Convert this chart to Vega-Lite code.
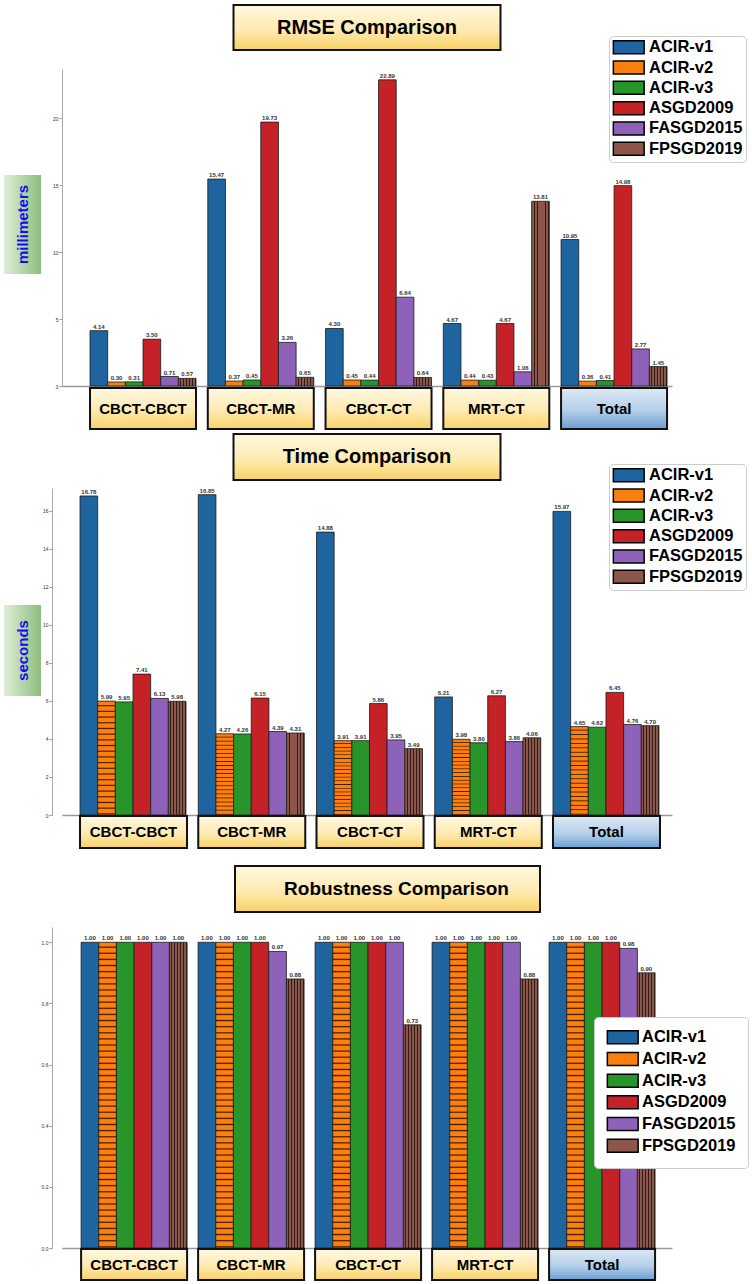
{
  "$schema": "https://vega.github.io/schema/vega-lite/v6.json",
  "background": "white",
  "padding": {"left": 4, "top": 4, "right": 0, "bottom": 0},
  "config": {"view": {"stroke": null}, "font": "Liberation Sans"},
  "datasets": {
    "cats": [{"cat": "CBCT-CBCT"}, {"cat": "CBCT-MR"}, {"cat": "CBCT-CT"}, {"cat": "MRT-CT"}, {"cat": "Total"}],
    "rmse": [
      {"cat": "CBCT-CBCT", "method": "ACIR-v1", "value": 4.14}, {"cat": "CBCT-CBCT", "method": "ACIR-v2", "value": 0.30}, {"cat": "CBCT-CBCT", "method": "ACIR-v3", "value": 0.31}, {"cat": "CBCT-CBCT", "method": "ASGD2009", "value": 3.50}, {"cat": "CBCT-CBCT", "method": "FASGD2015", "value": 0.71}, {"cat": "CBCT-CBCT", "method": "FPSGD2019", "value": 0.57},
      {"cat": "CBCT-MR", "method": "ACIR-v1", "value": 15.47}, {"cat": "CBCT-MR", "method": "ACIR-v2", "value": 0.37}, {"cat": "CBCT-MR", "method": "ACIR-v3", "value": 0.45}, {"cat": "CBCT-MR", "method": "ASGD2009", "value": 19.73}, {"cat": "CBCT-MR", "method": "FASGD2015", "value": 3.26}, {"cat": "CBCT-MR", "method": "FPSGD2019", "value": 0.65},
      {"cat": "CBCT-CT", "method": "ACIR-v1", "value": 4.30}, {"cat": "CBCT-CT", "method": "ACIR-v2", "value": 0.45}, {"cat": "CBCT-CT", "method": "ACIR-v3", "value": 0.44}, {"cat": "CBCT-CT", "method": "ASGD2009", "value": 22.89}, {"cat": "CBCT-CT", "method": "FASGD2015", "value": 6.64}, {"cat": "CBCT-CT", "method": "FPSGD2019", "value": 0.64},
      {"cat": "MRT-CT", "method": "ACIR-v1", "value": 4.67}, {"cat": "MRT-CT", "method": "ACIR-v2", "value": 0.44}, {"cat": "MRT-CT", "method": "ACIR-v3", "value": 0.43}, {"cat": "MRT-CT", "method": "ASGD2009", "value": 4.67}, {"cat": "MRT-CT", "method": "FASGD2015", "value": 1.06}, {"cat": "MRT-CT", "method": "FPSGD2019", "value": 13.81},
      {"cat": "Total", "method": "ACIR-v1", "value": 10.95}, {"cat": "Total", "method": "ACIR-v2", "value": 0.36}, {"cat": "Total", "method": "ACIR-v3", "value": 0.41}, {"cat": "Total", "method": "ASGD2009", "value": 14.98}, {"cat": "Total", "method": "FASGD2015", "value": 2.77}, {"cat": "Total", "method": "FPSGD2019", "value": 1.45}
    ],
    "time": [
      {"cat": "CBCT-CBCT", "method": "ACIR-v1", "value": 16.78}, {"cat": "CBCT-CBCT", "method": "ACIR-v2", "value": 5.99}, {"cat": "CBCT-CBCT", "method": "ACIR-v3", "value": 5.95}, {"cat": "CBCT-CBCT", "method": "ASGD2009", "value": 7.41}, {"cat": "CBCT-CBCT", "method": "FASGD2015", "value": 6.13}, {"cat": "CBCT-CBCT", "method": "FPSGD2019", "value": 5.98},
      {"cat": "CBCT-MR", "method": "ACIR-v1", "value": 16.85}, {"cat": "CBCT-MR", "method": "ACIR-v2", "value": 4.27}, {"cat": "CBCT-MR", "method": "ACIR-v3", "value": 4.26}, {"cat": "CBCT-MR", "method": "ASGD2009", "value": 6.15}, {"cat": "CBCT-MR", "method": "FASGD2015", "value": 4.39}, {"cat": "CBCT-MR", "method": "FPSGD2019", "value": 4.31},
      {"cat": "CBCT-CT", "method": "ACIR-v1", "value": 14.88}, {"cat": "CBCT-CT", "method": "ACIR-v2", "value": 3.91}, {"cat": "CBCT-CT", "method": "ACIR-v3", "value": 3.91}, {"cat": "CBCT-CT", "method": "ASGD2009", "value": 5.86}, {"cat": "CBCT-CT", "method": "FASGD2015", "value": 3.95}, {"cat": "CBCT-CT", "method": "FPSGD2019", "value": 3.49},
      {"cat": "MRT-CT", "method": "ACIR-v1", "value": 6.21}, {"cat": "MRT-CT", "method": "ACIR-v2", "value": 3.98}, {"cat": "MRT-CT", "method": "ACIR-v3", "value": 3.80}, {"cat": "MRT-CT", "method": "ASGD2009", "value": 6.27}, {"cat": "MRT-CT", "method": "FASGD2015", "value": 3.86}, {"cat": "MRT-CT", "method": "FPSGD2019", "value": 4.06},
      {"cat": "Total", "method": "ACIR-v1", "value": 15.97}, {"cat": "Total", "method": "ACIR-v2", "value": 4.65}, {"cat": "Total", "method": "ACIR-v3", "value": 4.62}, {"cat": "Total", "method": "ASGD2009", "value": 6.45}, {"cat": "Total", "method": "FASGD2015", "value": 4.76}, {"cat": "Total", "method": "FPSGD2019", "value": 4.70}
    ],
    "robust": [
      {"cat": "CBCT-CBCT", "method": "ACIR-v1", "value": 1.00}, {"cat": "CBCT-CBCT", "method": "ACIR-v2", "value": 1.00}, {"cat": "CBCT-CBCT", "method": "ACIR-v3", "value": 1.00}, {"cat": "CBCT-CBCT", "method": "ASGD2009", "value": 1.00}, {"cat": "CBCT-CBCT", "method": "FASGD2015", "value": 1.00}, {"cat": "CBCT-CBCT", "method": "FPSGD2019", "value": 1.00},
      {"cat": "CBCT-MR", "method": "ACIR-v1", "value": 1.00}, {"cat": "CBCT-MR", "method": "ACIR-v2", "value": 1.00}, {"cat": "CBCT-MR", "method": "ACIR-v3", "value": 1.00}, {"cat": "CBCT-MR", "method": "ASGD2009", "value": 1.00}, {"cat": "CBCT-MR", "method": "FASGD2015", "value": 0.97}, {"cat": "CBCT-MR", "method": "FPSGD2019", "value": 0.88},
      {"cat": "CBCT-CT", "method": "ACIR-v1", "value": 1.00}, {"cat": "CBCT-CT", "method": "ACIR-v2", "value": 1.00}, {"cat": "CBCT-CT", "method": "ACIR-v3", "value": 1.00}, {"cat": "CBCT-CT", "method": "ASGD2009", "value": 1.00}, {"cat": "CBCT-CT", "method": "FASGD2015", "value": 1.00}, {"cat": "CBCT-CT", "method": "FPSGD2019", "value": 0.73},
      {"cat": "MRT-CT", "method": "ACIR-v1", "value": 1.00}, {"cat": "MRT-CT", "method": "ACIR-v2", "value": 1.00}, {"cat": "MRT-CT", "method": "ACIR-v3", "value": 1.00}, {"cat": "MRT-CT", "method": "ASGD2009", "value": 1.00}, {"cat": "MRT-CT", "method": "FASGD2015", "value": 1.00}, {"cat": "MRT-CT", "method": "FPSGD2019", "value": 0.88},
      {"cat": "Total", "method": "ACIR-v1", "value": 1.00}, {"cat": "Total", "method": "ACIR-v2", "value": 1.00}, {"cat": "Total", "method": "ACIR-v3", "value": 1.00}, {"cat": "Total", "method": "ASGD2009", "value": 1.00}, {"cat": "Total", "method": "FASGD2015", "value": 0.98}, {"cat": "Total", "method": "FPSGD2019", "value": 0.90}
    ]
  },
  "spacing": 0,
  "resolve": {"scale": {"color": "independent"}, "legend": {"color": "independent"}},
  "hconcat": [
    {
      "vconcat": [
        {"width": 37, "height": 170, "data": {"values": [{}]}, "mark": {"type": "rect", "opacity": 0}, "encoding": {}},
        {"width": 37, "height": 99, "data": {"values": [{"t": "millimeters"}]},
          "layer": [
            {"mark": {"type": "rect", "fill": {"gradient": "linear", "x1": 0, "y1": 0, "x2": 1, "y2": 0, "stops": [{"offset": 0, "color": "#dfeed9"}, {"offset": 1, "color": "#8dbd7b"}]}}, "encoding": {}},
            {"mark": {"type": "text", "angle": 270, "fontSize": 15, "fontWeight": "bold", "color": "#1010f0"}, "encoding": {"text": {"field": "t"}}}
          ]},
        {"width": 37, "height": 331, "data": {"values": [{}]}, "mark": {"type": "rect", "opacity": 0}, "encoding": {}},
        {"width": 37, "height": 91, "data": {"values": [{"t": "seconds"}]},
          "layer": [
            {"mark": {"type": "rect", "fill": {"gradient": "linear", "x1": 0, "y1": 0, "x2": 1, "y2": 0, "stops": [{"offset": 0, "color": "#dfeed9"}, {"offset": 1, "color": "#8dbd7b"}]}}, "encoding": {}},
            {"mark": {"type": "text", "angle": 270, "fontSize": 15, "fontWeight": "bold", "color": "#1010f0"}, "encoding": {"text": {"field": "t"}}}
          ]}
      ],
      "spacing": 0,
      "bounds": "flush"
    },
    {
      "spacing": 0,
      "bounds": "flush",
      "center": true,
      "resolve": {"scale": {"color": "independent"}, "legend": {"color": "independent"}},
      "vconcat": [
        {"width": 267, "height": 45, "data": {"values": [{"t": "RMSE Comparison"}]},
          "layer": [
            {"mark": {"type": "rect", "stroke": "#111", "strokeWidth": 2, "fill": {"gradient": "linear", "x1": 0, "y1": 0, "x2": 0, "y2": 1, "stops": [{"offset": 0, "color": "#fff8e0"}, {"offset": 0.55, "color": "#feeab2"}, {"offset": 1, "color": "#f9d266"}]}}, "encoding": {}},
            {"mark": {"type": "text", "fontSize": 20, "fontWeight": "bold", "color": "#000"}, "encoding": {"text": {"field": "t"}}}
          ]},
        {"width": 10, "height": 19, "data": {"values": [{}]}, "mark": {"type": "rect", "opacity": 0}, "encoding": {}},
        {"width": 610, "height": 317, "data": {"name": "rmse"},
          "encoding": {
            "x": {"field": "cat", "type": "nominal", "sort": null, "scale": {"domain": ["CBCT-CBCT", "CBCT-MR", "CBCT-CT", "MRT-CT", "Total"], "paddingInner": 0.1, "paddingOuter": 0.14, "align": 0.85}, "axis": {"title": null, "labels": false, "ticks": false, "grid": false, "domainColor": "#999", "domainWidth": 1.5}},
            "xOffset": {"field": "method", "type": "nominal", "sort": null, "scale": {"domain": ["ACIR-v1", "ACIR-v2", "ACIR-v3", "ASGD2009", "FASGD2015", "FPSGD2019"], "paddingInner": 0, "paddingOuter": 0}},
            "y": {"field": "value", "type": "quantitative", "scale": {"domain": [0, 23.7], "nice": false}, "axis": {"title": null, "values": [0, 5, 10, 15, 20], "format": "d", "grid": false, "labelFontSize": 5, "labelColor": "#333", "tickSize": 3, "tickColor": "#999", "labelPadding": 1, "domainColor": "#aaa"}}
          },
          "layer": [
            {"mark": {"type": "bar", "stroke": "#1a1a1a", "strokeWidth": 0.8},
              "encoding": {"color": {
                "condition": [
                  {"test": "datum.method === 'FPSGD2019'", "value": {"gradient": "linear", "x1": 0, "y1": 0, "x2": 1, "y2": 0, "stops": [{"offset": 0, "color": "#8c564b"}, {"offset": 0.117, "color": "#8c564b"}, {"offset": 0.117, "color": "#2e1c18"}, {"offset": 0.167, "color": "#2e1c18"}, {"offset": 0.167, "color": "#8c564b"}, {"offset": 0.283, "color": "#8c564b"}, {"offset": 0.283, "color": "#2e1c18"}, {"offset": 0.333, "color": "#2e1c18"}, {"offset": 0.333, "color": "#8c564b"}, {"offset": 0.45, "color": "#8c564b"}, {"offset": 0.45, "color": "#2e1c18"}, {"offset": 0.5, "color": "#2e1c18"}, {"offset": 0.5, "color": "#8c564b"}, {"offset": 0.617, "color": "#8c564b"}, {"offset": 0.617, "color": "#2e1c18"}, {"offset": 0.667, "color": "#2e1c18"}, {"offset": 0.667, "color": "#8c564b"}, {"offset": 0.783, "color": "#8c564b"}, {"offset": 0.783, "color": "#2e1c18"}, {"offset": 0.833, "color": "#2e1c18"}, {"offset": 0.833, "color": "#8c564b"}, {"offset": 0.95, "color": "#8c564b"}, {"offset": 0.95, "color": "#2e1c18"}, {"offset": 1, "color": "#2e1c18"}]}}
                ],
                "field": "method", "type": "nominal", "sort": null,
                "scale": {"domain": ["ACIR-v1", "ACIR-v2", "ACIR-v3", "ASGD2009", "FASGD2015", "FPSGD2019"], "range": ["#1e65a0", "#f7800f", "#27952a", "#c42226", "#8d62b8", "#8c564b"]},
                "legend": {"title": null, "orient": "none", "legendX": 547, "legendY": -33, "direction": "vertical", "symbolType": "M-2.2,-0.93H2.2V0.93H-2.2Z", "symbolSize": 196, "symbolStrokeColor": "#000", "symbolStrokeWidth": 1.5, "symbolOffset": 8.5, "labelOffset": 12, "labelFontSize": 16.5, "labelFontWeight": "bold", "labelColor": "#000", "labelLimit": 200, "rowPadding": 0.3, "padding": 3, "fillColor": "#fff", "strokeColor": "#ccc", "cornerRadius": 4}}}},
            {"mark": {"type": "text", "baseline": "bottom", "dy": -1, "fontSize": 6, "fontWeight": "bold", "color": "#333"}, "encoding": {"text": {"field": "value", "type": "quantitative", "format": ".2f"}}}
          ]},
        {"width": 10, "height": 2, "data": {"values": [{}]}, "mark": {"type": "rect", "opacity": 0}, "encoding": {}},
        {"width": 610, "height": 41, "data": {"name": "cats"},
          "encoding": {"x": {"field": "cat", "type": "nominal", "sort": null, "scale": {"domain": ["CBCT-CBCT", "CBCT-MR", "CBCT-CT", "MRT-CT", "Total"], "paddingInner": 0.1, "paddingOuter": 0.14, "align": 0.85}, "axis": null}},
          "layer": [
            {"mark": {"type": "rect", "stroke": "#111", "strokeWidth": 2}, "encoding": {"fill": {"condition": {"test": "datum.cat === 'Total'", "value": {"gradient": "linear", "x1": 0, "y1": 0, "x2": 0, "y2": 1, "stops": [{"offset": 0, "color": "#dde9f6"}, {"offset": 0.55, "color": "#b5cfe9"}, {"offset": 1, "color": "#6a9fd3"}]}}, "value": {"gradient": "linear", "x1": 0, "y1": 0, "x2": 0, "y2": 1, "stops": [{"offset": 0, "color": "#fff8e0"}, {"offset": 0.55, "color": "#feeab2"}, {"offset": 1, "color": "#f9d266"}]}}}},
            {"mark": {"type": "text", "fontSize": 15, "fontWeight": "bold", "color": "#000"}, "encoding": {"text": {"field": "cat"}}}
          ]},
        {"width": 10, "height": 5, "data": {"values": [{}]}, "mark": {"type": "rect", "opacity": 0}, "encoding": {}},
        {"width": 267, "height": 46, "data": {"values": [{"t": "Time Comparison"}]},
          "layer": [
            {"mark": {"type": "rect", "stroke": "#111", "strokeWidth": 2, "fill": {"gradient": "linear", "x1": 0, "y1": 0, "x2": 0, "y2": 1, "stops": [{"offset": 0, "color": "#fff8e0"}, {"offset": 0.55, "color": "#feeab2"}, {"offset": 1, "color": "#f9d266"}]}}, "encoding": {}},
            {"mark": {"type": "text", "fontSize": 20, "fontWeight": "bold", "color": "#000"}, "encoding": {"text": {"field": "t"}}}
          ]},
        {"width": 10, "height": 8, "data": {"values": [{}]}, "mark": {"type": "rect", "opacity": 0}, "encoding": {}},
        {"width": 610, "height": 327, "data": {"name": "time"},
          "encoding": {
            "x": {"field": "cat", "type": "nominal", "sort": null, "scale": {"domain": ["CBCT-CBCT", "CBCT-MR", "CBCT-CT", "MRT-CT", "Total"], "paddingInner": 0.095, "paddingOuter": 0.127, "align": 0.6}, "axis": {"title": null, "labels": false, "ticks": false, "grid": false, "domainColor": "#999", "domainWidth": 1.5}},
            "xOffset": {"field": "method", "type": "nominal", "sort": null, "scale": {"domain": ["ACIR-v1", "ACIR-v2", "ACIR-v3", "ASGD2009", "FASGD2015", "FPSGD2019"], "paddingInner": 0, "paddingOuter": 0}},
            "y": {"field": "value", "type": "quantitative", "scale": {"domain": [0, 17.2], "nice": false}, "axis": {"title": null, "values": [0, 2, 4, 6, 8, 10, 12, 14, 16], "format": "d", "grid": false, "labelFontSize": 5, "labelColor": "#333", "tickSize": 3, "tickColor": "#999", "labelPadding": 1, "domainColor": "#aaa", "offset": 10}}
          },
          "layer": [
            {"mark": {"type": "bar", "stroke": "#1a1a1a", "strokeWidth": 0.8},
              "encoding": {"color": {
                "condition": [
                  {"test": "datum.method === 'FPSGD2019'", "value": {"gradient": "linear", "x1": 0, "y1": 0, "x2": 1, "y2": 0, "stops": [{"offset": 0, "color": "#8c564b"}, {"offset": 0.117, "color": "#8c564b"}, {"offset": 0.117, "color": "#2e1c18"}, {"offset": 0.167, "color": "#2e1c18"}, {"offset": 0.167, "color": "#8c564b"}, {"offset": 0.283, "color": "#8c564b"}, {"offset": 0.283, "color": "#2e1c18"}, {"offset": 0.333, "color": "#2e1c18"}, {"offset": 0.333, "color": "#8c564b"}, {"offset": 0.45, "color": "#8c564b"}, {"offset": 0.45, "color": "#2e1c18"}, {"offset": 0.5, "color": "#2e1c18"}, {"offset": 0.5, "color": "#8c564b"}, {"offset": 0.617, "color": "#8c564b"}, {"offset": 0.617, "color": "#2e1c18"}, {"offset": 0.667, "color": "#2e1c18"}, {"offset": 0.667, "color": "#8c564b"}, {"offset": 0.783, "color": "#8c564b"}, {"offset": 0.783, "color": "#2e1c18"}, {"offset": 0.833, "color": "#2e1c18"}, {"offset": 0.833, "color": "#8c564b"}, {"offset": 0.95, "color": "#8c564b"}, {"offset": 0.95, "color": "#2e1c18"}, {"offset": 1, "color": "#2e1c18"}]}},
                  {"test": "datum.method === 'ACIR-v2'", "value": {"gradient": "linear", "x1": 0, "y1": 0, "x2": 0, "y2": 1, "stops": [
                    {"offset": 0, "color": "#ff7f0e"}, {"offset": 0.03, "color": "#ff7f0e"}, {"offset": 0.04, "color": "#3b1d00"},
                    {"offset": 0.05, "color": "#ff7f0e"}, {"offset": 0.08, "color": "#ff7f0e"}, {"offset": 0.09, "color": "#3b1d00"},
                    {"offset": 0.10, "color": "#ff7f0e"}, {"offset": 0.13, "color": "#ff7f0e"}, {"offset": 0.14, "color": "#3b1d00"},
                    {"offset": 0.15, "color": "#ff7f0e"}, {"offset": 0.18, "color": "#ff7f0e"}, {"offset": 0.19, "color": "#3b1d00"},
                    {"offset": 0.20, "color": "#ff7f0e"}, {"offset": 0.23, "color": "#ff7f0e"}, {"offset": 0.24, "color": "#3b1d00"},
                    {"offset": 0.25, "color": "#ff7f0e"}, {"offset": 0.28, "color": "#ff7f0e"}, {"offset": 0.29, "color": "#3b1d00"},
                    {"offset": 0.30, "color": "#ff7f0e"}, {"offset": 0.33, "color": "#ff7f0e"}, {"offset": 0.34, "color": "#3b1d00"},
                    {"offset": 0.35, "color": "#ff7f0e"}, {"offset": 0.38, "color": "#ff7f0e"}, {"offset": 0.39, "color": "#3b1d00"},
                    {"offset": 0.40, "color": "#ff7f0e"}, {"offset": 0.43, "color": "#ff7f0e"}, {"offset": 0.44, "color": "#3b1d00"},
                    {"offset": 0.45, "color": "#ff7f0e"}, {"offset": 0.48, "color": "#ff7f0e"}, {"offset": 0.49, "color": "#3b1d00"},
                    {"offset": 0.50, "color": "#ff7f0e"}, {"offset": 0.53, "color": "#ff7f0e"}, {"offset": 0.54, "color": "#3b1d00"},
                    {"offset": 0.55, "color": "#ff7f0e"}, {"offset": 0.58, "color": "#ff7f0e"}, {"offset": 0.59, "color": "#3b1d00"},
                    {"offset": 0.60, "color": "#ff7f0e"}, {"offset": 0.63, "color": "#ff7f0e"}, {"offset": 0.64, "color": "#3b1d00"},
                    {"offset": 0.65, "color": "#ff7f0e"}, {"offset": 0.68, "color": "#ff7f0e"}, {"offset": 0.69, "color": "#3b1d00"},
                    {"offset": 0.70, "color": "#ff7f0e"}, {"offset": 0.73, "color": "#ff7f0e"}, {"offset": 0.74, "color": "#3b1d00"},
                    {"offset": 0.75, "color": "#ff7f0e"}, {"offset": 0.78, "color": "#ff7f0e"}, {"offset": 0.79, "color": "#3b1d00"},
                    {"offset": 0.80, "color": "#ff7f0e"}, {"offset": 0.83, "color": "#ff7f0e"}, {"offset": 0.84, "color": "#3b1d00"},
                    {"offset": 0.85, "color": "#ff7f0e"}, {"offset": 0.88, "color": "#ff7f0e"}, {"offset": 0.89, "color": "#3b1d00"},
                    {"offset": 0.90, "color": "#ff7f0e"}, {"offset": 0.93, "color": "#ff7f0e"}, {"offset": 0.94, "color": "#3b1d00"},
                    {"offset": 0.95, "color": "#ff7f0e"}, {"offset": 0.98, "color": "#ff7f0e"}, {"offset": 0.99, "color": "#3b1d00"},
                    {"offset": 1, "color": "#ff7f0e"}]}}
                ],
                "field": "method", "type": "nominal", "sort": null,
                "scale": {"domain": ["ACIR-v1", "ACIR-v2", "ACIR-v3", "ASGD2009", "FASGD2015", "FPSGD2019"], "range": ["#1e65a0", "#f7800f", "#27952a", "#c42226", "#8d62b8", "#8c564b"]},
                "legend": {"title": null, "orient": "none", "legendX": 547, "legendY": -24, "direction": "vertical", "symbolType": "M-2.2,-0.93H2.2V0.93H-2.2Z", "symbolSize": 196, "symbolStrokeColor": "#000", "symbolStrokeWidth": 1.5, "symbolOffset": 8.5, "labelOffset": 12, "labelFontSize": 16.5, "labelFontWeight": "bold", "labelColor": "#000", "labelLimit": 200, "rowPadding": 0.3, "padding": 3, "fillColor": "#fff", "strokeColor": "#ccc", "cornerRadius": 4}}}},
            {"mark": {"type": "text", "baseline": "bottom", "dy": -1, "fontSize": 6, "fontWeight": "bold", "color": "#333"}, "encoding": {"text": {"field": "value", "type": "quantitative", "format": ".2f"}}}
          ]},
        {"width": 10, "height": 1, "data": {"values": [{}]}, "mark": {"type": "rect", "opacity": 0}, "encoding": {}},
        {"width": 610, "height": 32, "data": {"name": "cats"},
          "encoding": {"x": {"field": "cat", "type": "nominal", "sort": null, "scale": {"domain": ["CBCT-CBCT", "CBCT-MR", "CBCT-CT", "MRT-CT", "Total"], "paddingInner": 0.095, "paddingOuter": 0.127, "align": 0.6}, "axis": null}},
          "layer": [
            {"mark": {"type": "rect", "stroke": "#111", "strokeWidth": 2}, "encoding": {"fill": {"condition": {"test": "datum.cat === 'Total'", "value": {"gradient": "linear", "x1": 0, "y1": 0, "x2": 0, "y2": 1, "stops": [{"offset": 0, "color": "#dde9f6"}, {"offset": 0.55, "color": "#b5cfe9"}, {"offset": 1, "color": "#6a9fd3"}]}}, "value": {"gradient": "linear", "x1": 0, "y1": 0, "x2": 0, "y2": 1, "stops": [{"offset": 0, "color": "#fff8e0"}, {"offset": 0.55, "color": "#feeab2"}, {"offset": 1, "color": "#f9d266"}]}}}},
            {"mark": {"type": "text", "fontSize": 15, "fontWeight": "bold", "color": "#000"}, "encoding": {"text": {"field": "cat"}}}
          ]},
        {"width": 10, "height": 18, "data": {"values": [{}]}, "mark": {"type": "rect", "opacity": 0}, "encoding": {}},
        {"width": 346, "height": 46, "data": {"values": [{"t": "Robustness Comparison"}]},
          "encoding": {"x": {"field": "t", "type": "nominal", "scale": {"paddingInner": 0, "paddingOuter": 0.0672, "align": 1}, "axis": null}},
          "layer": [
            {"mark": {"type": "rect", "stroke": "#111", "strokeWidth": 2, "fill": {"gradient": "linear", "x1": 0, "y1": 0, "x2": 0, "y2": 1, "stops": [{"offset": 0, "color": "#fff8e0"}, {"offset": 0.55, "color": "#feeab2"}, {"offset": 1, "color": "#f9d266"}]}}},
            {"mark": {"type": "text", "fontSize": 19, "fontWeight": "bold", "color": "#000", "dx": 9}, "encoding": {"text": {"field": "t"}}}
          ]},
        {"width": 10, "height": 15, "data": {"values": [{}]}, "mark": {"type": "rect", "opacity": 0}, "encoding": {}},
        {"width": 610, "height": 321, "data": {"name": "robust"},
          "encoding": {
            "x": {"field": "cat", "type": "nominal", "sort": null, "scale": {"domain": ["CBCT-CBCT", "CBCT-MR", "CBCT-CT", "MRT-CT", "Total"], "paddingInner": 0.094, "paddingOuter": 0.154, "align": 0.53}, "axis": {"title": null, "labels": false, "ticks": false, "grid": false, "domainColor": "#999", "domainWidth": 1.5}},
            "xOffset": {"field": "method", "type": "nominal", "sort": null, "scale": {"domain": ["ACIR-v1", "ACIR-v2", "ACIR-v3", "ASGD2009", "FASGD2015", "FPSGD2019"], "paddingInner": 0, "paddingOuter": 0}},
            "y": {"field": "value", "type": "quantitative", "scale": {"domain": [0, 1.05], "nice": false}, "axis": {"title": null, "values": [0, 0.2, 0.4, 0.6, 0.8, 1.0], "format": ".1f", "grid": false, "labelFontSize": 5, "labelColor": "#333", "tickSize": 3, "tickColor": "#999", "labelPadding": 1, "domainColor": "#aaa", "offset": 10}}
          },
          "layer": [
            {"mark": {"type": "bar", "stroke": "#1a1a1a", "strokeWidth": 0.8},
              "encoding": {"color": {
                "condition": [
                  {"test": "datum.method === 'FPSGD2019'", "value": {"gradient": "linear", "x1": 0, "y1": 0, "x2": 1, "y2": 0, "stops": [{"offset": 0, "color": "#8c564b"}, {"offset": 0.117, "color": "#8c564b"}, {"offset": 0.117, "color": "#2e1c18"}, {"offset": 0.167, "color": "#2e1c18"}, {"offset": 0.167, "color": "#8c564b"}, {"offset": 0.283, "color": "#8c564b"}, {"offset": 0.283, "color": "#2e1c18"}, {"offset": 0.333, "color": "#2e1c18"}, {"offset": 0.333, "color": "#8c564b"}, {"offset": 0.45, "color": "#8c564b"}, {"offset": 0.45, "color": "#2e1c18"}, {"offset": 0.5, "color": "#2e1c18"}, {"offset": 0.5, "color": "#8c564b"}, {"offset": 0.617, "color": "#8c564b"}, {"offset": 0.617, "color": "#2e1c18"}, {"offset": 0.667, "color": "#2e1c18"}, {"offset": 0.667, "color": "#8c564b"}, {"offset": 0.783, "color": "#8c564b"}, {"offset": 0.783, "color": "#2e1c18"}, {"offset": 0.833, "color": "#2e1c18"}, {"offset": 0.833, "color": "#8c564b"}, {"offset": 0.95, "color": "#8c564b"}, {"offset": 0.95, "color": "#2e1c18"}, {"offset": 1, "color": "#2e1c18"}]}},
                  {"test": "datum.method === 'ACIR-v2'", "value": {"gradient": "linear", "x1": 0, "y1": 0, "x2": 0, "y2": 1, "stops": [
                    {"offset": 0, "color": "#ff7f0e"}, {"offset": 0.012, "color": "#ff7f0e"}, {"offset": 0.016, "color": "#3b1d00"},
                    {"offset": 0.02, "color": "#ff7f0e"}, {"offset": 0.032, "color": "#ff7f0e"}, {"offset": 0.036, "color": "#3b1d00"},
                    {"offset": 0.04, "color": "#ff7f0e"}, {"offset": 0.052, "color": "#ff7f0e"}, {"offset": 0.056, "color": "#3b1d00"},
                    {"offset": 0.06, "color": "#ff7f0e"}, {"offset": 0.072, "color": "#ff7f0e"}, {"offset": 0.076, "color": "#3b1d00"},
                    {"offset": 0.08, "color": "#ff7f0e"}, {"offset": 0.092, "color": "#ff7f0e"}, {"offset": 0.096, "color": "#3b1d00"},
                    {"offset": 0.10, "color": "#ff7f0e"}, {"offset": 0.112, "color": "#ff7f0e"}, {"offset": 0.116, "color": "#3b1d00"},
                    {"offset": 0.12, "color": "#ff7f0e"}, {"offset": 0.132, "color": "#ff7f0e"}, {"offset": 0.136, "color": "#3b1d00"},
                    {"offset": 0.14, "color": "#ff7f0e"}, {"offset": 0.152, "color": "#ff7f0e"}, {"offset": 0.156, "color": "#3b1d00"},
                    {"offset": 0.16, "color": "#ff7f0e"}, {"offset": 0.172, "color": "#ff7f0e"}, {"offset": 0.176, "color": "#3b1d00"},
                    {"offset": 0.18, "color": "#ff7f0e"}, {"offset": 0.192, "color": "#ff7f0e"}, {"offset": 0.196, "color": "#3b1d00"},
                    {"offset": 0.20, "color": "#ff7f0e"}, {"offset": 0.212, "color": "#ff7f0e"}, {"offset": 0.216, "color": "#3b1d00"},
                    {"offset": 0.22, "color": "#ff7f0e"}, {"offset": 0.232, "color": "#ff7f0e"}, {"offset": 0.236, "color": "#3b1d00"},
                    {"offset": 0.24, "color": "#ff7f0e"}, {"offset": 0.252, "color": "#ff7f0e"}, {"offset": 0.256, "color": "#3b1d00"},
                    {"offset": 0.26, "color": "#ff7f0e"}, {"offset": 0.272, "color": "#ff7f0e"}, {"offset": 0.276, "color": "#3b1d00"},
                    {"offset": 0.28, "color": "#ff7f0e"}, {"offset": 0.292, "color": "#ff7f0e"}, {"offset": 0.296, "color": "#3b1d00"},
                    {"offset": 0.30, "color": "#ff7f0e"}, {"offset": 0.312, "color": "#ff7f0e"}, {"offset": 0.316, "color": "#3b1d00"},
                    {"offset": 0.32, "color": "#ff7f0e"}, {"offset": 0.332, "color": "#ff7f0e"}, {"offset": 0.336, "color": "#3b1d00"},
                    {"offset": 0.34, "color": "#ff7f0e"}, {"offset": 0.352, "color": "#ff7f0e"}, {"offset": 0.356, "color": "#3b1d00"},
                    {"offset": 0.36, "color": "#ff7f0e"}, {"offset": 0.372, "color": "#ff7f0e"}, {"offset": 0.376, "color": "#3b1d00"},
                    {"offset": 0.38, "color": "#ff7f0e"}, {"offset": 0.392, "color": "#ff7f0e"}, {"offset": 0.396, "color": "#3b1d00"},
                    {"offset": 0.40, "color": "#ff7f0e"}, {"offset": 0.412, "color": "#ff7f0e"}, {"offset": 0.416, "color": "#3b1d00"},
                    {"offset": 0.42, "color": "#ff7f0e"}, {"offset": 0.432, "color": "#ff7f0e"}, {"offset": 0.436, "color": "#3b1d00"},
                    {"offset": 0.44, "color": "#ff7f0e"}, {"offset": 0.452, "color": "#ff7f0e"}, {"offset": 0.456, "color": "#3b1d00"},
                    {"offset": 0.46, "color": "#ff7f0e"}, {"offset": 0.472, "color": "#ff7f0e"}, {"offset": 0.476, "color": "#3b1d00"},
                    {"offset": 0.48, "color": "#ff7f0e"}, {"offset": 0.492, "color": "#ff7f0e"}, {"offset": 0.496, "color": "#3b1d00"},
                    {"offset": 0.50, "color": "#ff7f0e"}, {"offset": 0.512, "color": "#ff7f0e"}, {"offset": 0.516, "color": "#3b1d00"},
                    {"offset": 0.52, "color": "#ff7f0e"}, {"offset": 0.532, "color": "#ff7f0e"}, {"offset": 0.536, "color": "#3b1d00"},
                    {"offset": 0.54, "color": "#ff7f0e"}, {"offset": 0.552, "color": "#ff7f0e"}, {"offset": 0.556, "color": "#3b1d00"},
                    {"offset": 0.56, "color": "#ff7f0e"}, {"offset": 0.572, "color": "#ff7f0e"}, {"offset": 0.576, "color": "#3b1d00"},
                    {"offset": 0.58, "color": "#ff7f0e"}, {"offset": 0.592, "color": "#ff7f0e"}, {"offset": 0.596, "color": "#3b1d00"},
                    {"offset": 0.60, "color": "#ff7f0e"}, {"offset": 0.612, "color": "#ff7f0e"}, {"offset": 0.616, "color": "#3b1d00"},
                    {"offset": 0.62, "color": "#ff7f0e"}, {"offset": 0.632, "color": "#ff7f0e"}, {"offset": 0.636, "color": "#3b1d00"},
                    {"offset": 0.64, "color": "#ff7f0e"}, {"offset": 0.652, "color": "#ff7f0e"}, {"offset": 0.656, "color": "#3b1d00"},
                    {"offset": 0.66, "color": "#ff7f0e"}, {"offset": 0.672, "color": "#ff7f0e"}, {"offset": 0.676, "color": "#3b1d00"},
                    {"offset": 0.68, "color": "#ff7f0e"}, {"offset": 0.692, "color": "#ff7f0e"}, {"offset": 0.696, "color": "#3b1d00"},
                    {"offset": 0.70, "color": "#ff7f0e"}, {"offset": 0.712, "color": "#ff7f0e"}, {"offset": 0.716, "color": "#3b1d00"},
                    {"offset": 0.72, "color": "#ff7f0e"}, {"offset": 0.732, "color": "#ff7f0e"}, {"offset": 0.736, "color": "#3b1d00"},
                    {"offset": 0.74, "color": "#ff7f0e"}, {"offset": 0.752, "color": "#ff7f0e"}, {"offset": 0.756, "color": "#3b1d00"},
                    {"offset": 0.76, "color": "#ff7f0e"}, {"offset": 0.772, "color": "#ff7f0e"}, {"offset": 0.776, "color": "#3b1d00"},
                    {"offset": 0.78, "color": "#ff7f0e"}, {"offset": 0.792, "color": "#ff7f0e"}, {"offset": 0.796, "color": "#3b1d00"},
                    {"offset": 0.80, "color": "#ff7f0e"}, {"offset": 0.812, "color": "#ff7f0e"}, {"offset": 0.816, "color": "#3b1d00"},
                    {"offset": 0.82, "color": "#ff7f0e"}, {"offset": 0.832, "color": "#ff7f0e"}, {"offset": 0.836, "color": "#3b1d00"},
                    {"offset": 0.84, "color": "#ff7f0e"}, {"offset": 0.852, "color": "#ff7f0e"}, {"offset": 0.856, "color": "#3b1d00"},
                    {"offset": 0.86, "color": "#ff7f0e"}, {"offset": 0.872, "color": "#ff7f0e"}, {"offset": 0.876, "color": "#3b1d00"},
                    {"offset": 0.88, "color": "#ff7f0e"}, {"offset": 0.892, "color": "#ff7f0e"}, {"offset": 0.896, "color": "#3b1d00"},
                    {"offset": 0.90, "color": "#ff7f0e"}, {"offset": 0.912, "color": "#ff7f0e"}, {"offset": 0.916, "color": "#3b1d00"},
                    {"offset": 0.92, "color": "#ff7f0e"}, {"offset": 0.932, "color": "#ff7f0e"}, {"offset": 0.936, "color": "#3b1d00"},
                    {"offset": 0.94, "color": "#ff7f0e"}, {"offset": 0.952, "color": "#ff7f0e"}, {"offset": 0.956, "color": "#3b1d00"},
                    {"offset": 0.96, "color": "#ff7f0e"}, {"offset": 0.972, "color": "#ff7f0e"}, {"offset": 0.976, "color": "#3b1d00"},
                    {"offset": 0.98, "color": "#ff7f0e"}, {"offset": 0.992, "color": "#ff7f0e"}, {"offset": 0.996, "color": "#3b1d00"},
                    {"offset": 1, "color": "#ff7f0e"}]}}
                ],
                "field": "method", "type": "nominal", "sort": null,
                "scale": {"domain": ["ACIR-v1", "ACIR-v2", "ACIR-v3", "ASGD2009", "FASGD2015", "FPSGD2019"], "range": ["#1e65a0", "#f7800f", "#27952a", "#c42226", "#8d62b8", "#8c564b"]},
                "legend": {"title": null, "orient": "none", "legendX": 532, "legendY": 90, "direction": "vertical", "symbolType": "M-2.2,-0.93H2.2V0.93H-2.2Z", "symbolSize": 196, "symbolStrokeColor": "#000", "symbolStrokeWidth": 1.5, "symbolOffset": 8.5, "labelOffset": 11, "labelFontSize": 16.5, "labelFontWeight": "bold", "labelColor": "#000", "labelLimit": 200, "rowPadding": 1.7, "padding": 12, "fillColor": "#fff", "strokeColor": "#ccc", "cornerRadius": 4}}}},
            {"mark": {"type": "text", "baseline": "bottom", "dy": -1, "fontSize": 6, "fontWeight": "bold", "color": "#333"}, "encoding": {"text": {"field": "value", "type": "quantitative", "format": ".2f"}}}
          ]},
        {"width": 10, "height": 1, "data": {"values": [{}]}, "mark": {"type": "rect", "opacity": 0}, "encoding": {}},
        {"width": 610, "height": 31, "data": {"name": "cats"},
          "encoding": {"x": {"field": "cat", "type": "nominal", "sort": null, "scale": {"domain": ["CBCT-CBCT", "CBCT-MR", "CBCT-CT", "MRT-CT", "Total"], "paddingInner": 0.094, "paddingOuter": 0.154, "align": 0.53}, "axis": null}},
          "layer": [
            {"mark": {"type": "rect", "stroke": "#111", "strokeWidth": 2}, "encoding": {"fill": {"condition": {"test": "datum.cat === 'Total'", "value": {"gradient": "linear", "x1": 0, "y1": 0, "x2": 0, "y2": 1, "stops": [{"offset": 0, "color": "#dde9f6"}, {"offset": 0.55, "color": "#b5cfe9"}, {"offset": 1, "color": "#6a9fd3"}]}}, "value": {"gradient": "linear", "x1": 0, "y1": 0, "x2": 0, "y2": 1, "stops": [{"offset": 0, "color": "#fff8e0"}, {"offset": 0.55, "color": "#feeab2"}, {"offset": 1, "color": "#f9d266"}]}}}},
            {"mark": {"type": "text", "fontSize": 15, "fontWeight": "bold", "color": "#000"}, "encoding": {"text": {"field": "cat"}}}
          ]}
      ]
    }
  ]
}
